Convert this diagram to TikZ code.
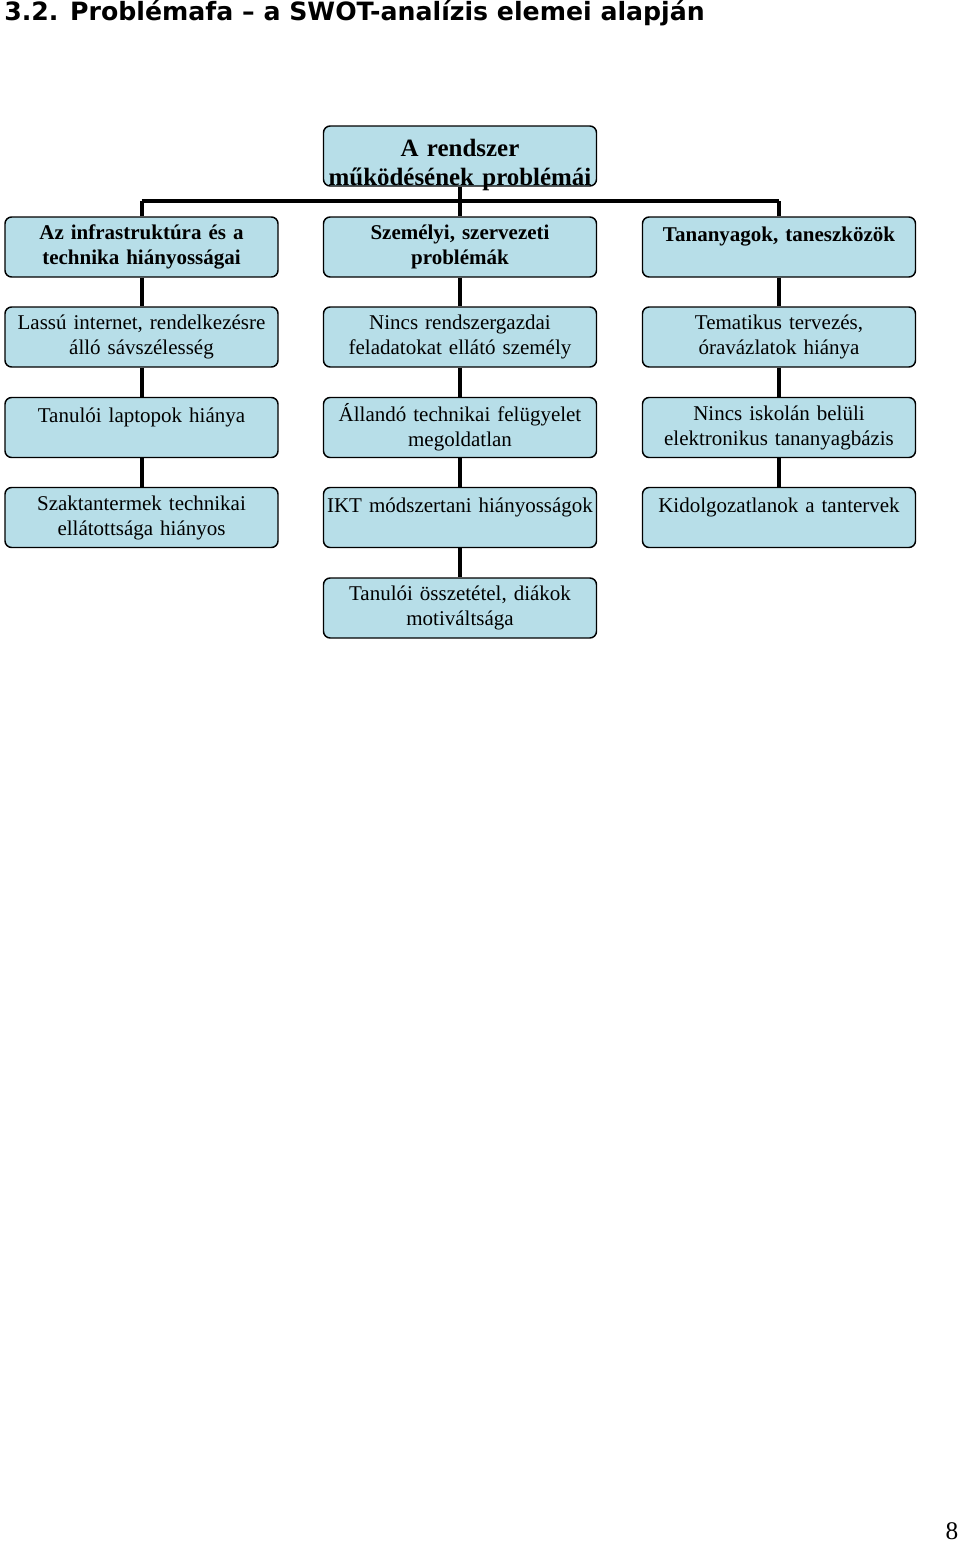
\documentclass[tikz,border=0pt]{standalone}
\usepackage{fontspec}
\setmainfont{Liberation Serif}
\newfontfamily\titlefont{DejaVu Sans}
\definecolor{boxfill}{RGB}{183,222,232}

\tikzset{
  probbox/.style={draw=black, fill=boxfill, rounded corners=5pt, line width=1.1pt,
    minimum width=204.75pt, minimum height=45pt, text width=200pt, align=center,
    inner sep=0pt, font=\fontsize{15.75}{18.75}\selectfont},
  headbox/.style={probbox, font=\bfseries\fontsize{15.75}{18.75}\selectfont},
  rootbox/.style={probbox, text depth=12.4pt, font=\bfseries\fontsize{18.7}{21.75}\selectfont},
  link/.style={line width=3pt},
}

\begin{document}
\begin{tikzpicture}[x=0.75pt, y=-0.75pt]

    \useasboundingbox (0,0) rectangle (960,1542);

    % Title
    \node[anchor=west, inner sep=0pt, font=\titlefont\bfseries\fontsize{18.9}{21}\selectfont] (title) at (4,13)
        {3.2. Problémafa – a SWOT-analízis elemei alapján};

    % Root
    \node[rootbox] (root) at (460,156) {A rendszer\\ működésének problémái};

    % First level
    \node[headbox] (infra) at (141.5,247) {Az infrastruktúra és a\\ technika hiányosságai};
    \node[headbox] (szem)  at (460,247)   {Személyi, szervezeti\\ problémák};
    \node[headbox] (tan)   at (779,247)   {Tananyagok, taneszközök\\ \mbox{}};

    % Left column
    \node[probbox] (internet) at (141.5,337)   {Lassú internet, rendelkezésre\\ álló sávszélesség};
    \node[probbox] (laptop)   at (141.5,427.5) {Tanulói laptopok hiánya\\ \mbox{}};
    \node[probbox] (terem)    at (141.5,517.5) {Szaktantermek technikai\\ ellátottsága hiányos};

    % Middle column
    \node[probbox] (rendszg) at (460,337)   {Nincs rendszergazdai\\ feladatokat ellátó személy};
    \node[probbox] (felugy)  at (460,427.5) {Állandó technikai felügyelet\\ megoldatlan};
    \node[probbox] (ikt)     at (460,517.5) {IKT módszertani hiányosságok\\ \mbox{}};
    \node[probbox] (diak)    at (460,608)   {Tanulói összetétel, diákok\\ motiváltsága};

    % Right column
    \node[probbox] (tema)     at (779,337)   {Tematikus tervezés,\\ óravázlatok hiánya};
    \node[probbox] (etanany)  at (779,427.5) {Nincs iskolán belüli\\ elektronikus tananyagbázis};
    \node[probbox] (tanterv)  at (779,517.5) {Kidolgozatlanok a tantervek\\ \mbox{}};

    % Page number
    \node[font=\fontsize{19}{22}\selectfont] (pagenum) at (952,1531) {8};

    % Connectors
    \coordinate (bar) at (460,201);
    \draw[link] (root.south) -- (szem.north);
    \draw[link, line width=3.5pt] (infra.north |- bar) -- (tan.north |- bar);
    \draw[link] (infra.north) -- (infra.north |- bar);
    \draw[link] (tan.north) -- (tan.north |- bar);

    \draw[link] (infra.south) -- (internet.north);
    \draw[link] (internet.south) -- (laptop.north);
    \draw[link] (laptop.south) -- (terem.north);

    \draw[link] (szem.south) -- (rendszg.north);
    \draw[link] (rendszg.south) -- (felugy.north);
    \draw[link] (felugy.south) -- (ikt.north);
    \draw[link] (ikt.south) -- (diak.north);

    \draw[link] (tan.south) -- (tema.north);
    \draw[link] (tema.south) -- (etanany.north);
    \draw[link] (etanany.south) -- (tanterv.north);

\end{tikzpicture}
\end{document}
